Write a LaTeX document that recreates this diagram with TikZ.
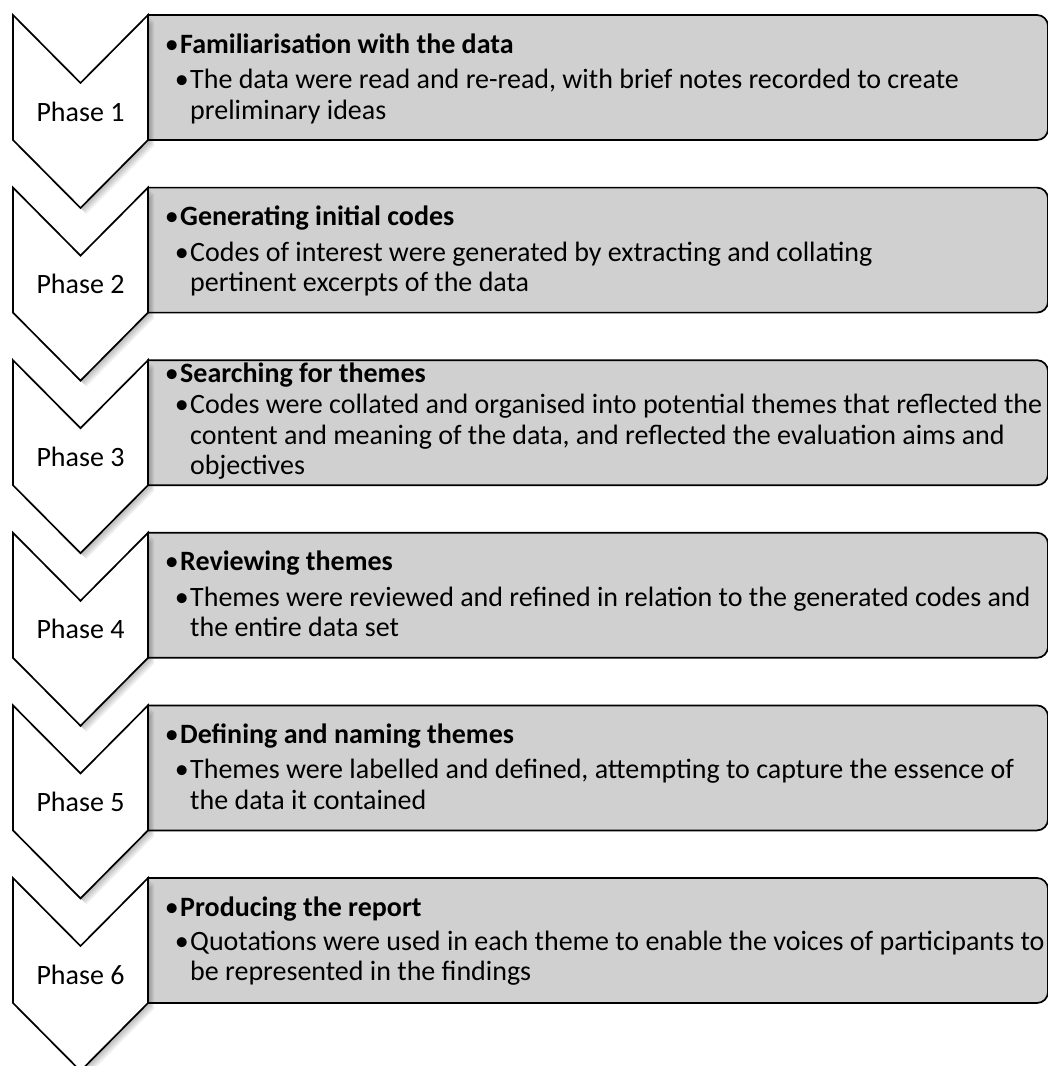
\documentclass[tikz,border=0pt]{standalone}
\usepackage{fontspec}
\setmainfont{Carlito}
\begin{document}
\begin{tikzpicture}[x=1pt,y=-1pt,
  box/.style={draw=black,line width=1.7pt,fill=boxgray},
  chev/.style={draw=black,line width=1.7pt,fill=white,line join=miter},
  shad/.style={fill=black,opacity=0.05,draw=none},
  txt/.style={inner sep=0pt,font=\fontsize{28}{32}\selectfont,text=black},
  lbl/.style={inner sep=0pt,font=\fontsize{28}{32}\selectfont,text=black,anchor=base}]
\definecolor{boxgray}{RGB}{208,208,208}
\useasboundingbox (0,0) rectangle (1048,1066);
\newcommand{\phasebox}[2]{%
  \draw[box] (148,#2) -- (1037,#2) arc[start angle=-90,end angle=0,radius=11] -- (1048,#2+114) arc[start angle=0,end angle=90,radius=11] -- (148,#2+125) -- cycle;
}
\newcommand{\phasechev}[2]{%
  \foreach \s in {1,2,3,4,5,6}{\fill[shad] (13+\s,#2+\s) -- (80.5+\s,#2+68+\s) -- (148+\s,#2+\s) -- (148+\s,#2+125+\s) -- (80.5+\s,#2+193+\s) -- (13+\s,#2+125+\s) -- cycle;}
  \draw[chev] (13,#2) -- (80.5,#2+68) -- (148,#2) -- (148,#2+125) -- (80.5,#2+193) -- (13,#2+125) -- cycle;
  \node[lbl] (p#1) at (80.5,#2+106) {Phase #1};
}
% boxes
\phasebox{1}{15}
\phasebox{2}{187.6}
\phasebox{3}{360.2}
\phasebox{4}{532.8}
\phasebox{5}{705.4}
\phasebox{6}{878}
% chevrons
\phasechev{1}{15}
\phasechev{2}{187.6}
\phasechev{3}{360.2}
\phasechev{4}{532.8}
\phasechev{5}{705.4}
\phasechev{6}{878}
% texts
\newcommand{\ttl}[3]{\node[txt,anchor=base west] (#1) at (180,#2) {\llap{•\hspace{1.5pt}}\textbf{#3}};}
\newcommand{\sub}[3]{\node[txt,anchor=base west] (#1) at (190,#2) {\llap{•\hspace{1.5pt}}#3};}
\newcommand{\cont}[3]{\node[txt,anchor=base west] (#1) at (190,#2) {#3};}
\ttl{t1}{53}{Familiarisation with the data}
\sub{s1}{88.5}{The data were read and re-read, with brief notes recorded to create}
\cont{c1}{119}{preliminary ideas}
\ttl{t2}{225.6}{Generating initial codes}
\sub{s2}{261.1}{Codes of interest were generated by extracting and collating}
\cont{c2}{291.6}{pertinent excerpts of the data}
\ttl{t3}{382.2}{Searching for themes}
\sub{s3}{413.2}{Codes were collated and organised into potential themes that reflected the}
\cont{c3a}{444.2}{content and meaning of the data, and reflected the evaluation aims and}
\cont{c3b}{474.7}{objectives}
\ttl{t4}{570.8}{Reviewing themes}
\sub{s4}{606.3}{Themes were reviewed and refined in relation to the generated codes and}
\cont{c4}{636.8}{the entire data set}
\ttl{t5}{743.4}{Defining and naming themes}
\sub{s5}{778.9}{Themes were labelled and defined, attempting to capture the essence of}
\cont{c5}{809.4}{the data it contained}
\ttl{t6}{916}{Producing the report}
\sub{s6}{950.5}{Quotations were used in each theme to enable the voices of participants to}
\cont{c6}{980}{be represented in the findings}
\end{tikzpicture}
\end{document}
